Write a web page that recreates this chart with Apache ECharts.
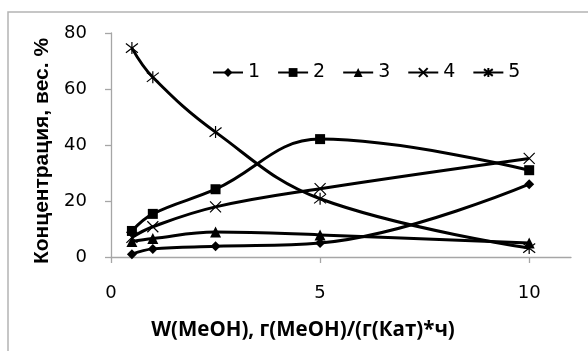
<!DOCTYPE html>
<html><head><meta charset="utf-8">
<script src="https://cdn.jsdelivr.net/npm/echarts@6/dist/echarts.min.js"></script>
<style>html,body{margin:0;padding:0;background:#fff}#c{width:588px;height:351px}</style>
</head><body><div id="c"></div>
<script>
const xValues = [0.5, 1, 2.5, 5, 10];
const s1 = [1.0, 2.9, 3.8, 5.0, 26.0];
const s2 = [9.3, 15.4, 24.2, 42.1, 31.0];
const s3 = [5.5, 6.6, 8.9, 7.9, 5.0];
const s4 = [7.0, 10.8, 17.9, 24.4, 35.2];
const s5 = [74.6, 64.2, 44.6, 20.8, 3.2];
const seriesNames = ['1', '2', '3', '4', '5'];
const xTicks = [0, 5, 10];
const yTicks = [0, 20, 40, 60, 80];

const X_PATH = 'path://M0,0L10,10M10,0L0,10';
const STAR_PATH = 'path://M0,0L10,10M10,0L0,10M5,-1.5L5,11.5';
const symbols = ['diamond', 'rect', 'triangle', X_PATH, STAR_PATH];
const sizes = [10, 10, 11, 11, 12];
const all = [s1, s2, s3, s4, s5];

const chart = echarts.init(document.getElementById('c'));
const series = all.map((arr, i) => ({
  name: seriesNames[i],
  type: 'line',
  smooth: 0.4,
  data: arr.map((v, k) => [xValues[k], v]),
  symbol: symbols[i],
  symbolSize: sizes[i],
  showAllSymbol: true,
  lineStyle: { color: '#000', width: 3 },
  itemStyle: i >= 3 ? { color: 'none', borderColor: '#000', borderWidth: 1.2 } : { color: '#000', borderColor: '#000', borderWidth: 0 },
  emphasis: { disabled: true },
  z: 2 + i
}));

chart.setOption({
  animation: false,
  backgroundColor: '#fff',
  graphic: [{
    type: 'rect', shape: { x: 8, y: 12, width: 620, height: 400 },
    style: { fill: 'none', stroke: '#b4b4b4', lineWidth: 1.5 }, z: 0
  }],
  grid: { left: 111, right: 17, top: 33, bottom: 94, containLabel: false },
  legend: {
    data: seriesNames,
    left: 207, top: 58,
    itemWidth: 30, itemHeight: 11, itemGap: 17,
    textStyle: { fontFamily: 'DejaVu Sans', fontSize: 19, color: '#000' },
    itemStyle: {}
  },
  xAxis: {
    type: 'value', min: 0, max: 11, interval: 5,
    name: 'W(MeOH), г(MeOH)/(г(Кат)*ч)',
    nameLocation: 'middle', nameGap: 63,
    nameTextStyle: { fontFamily: 'Open Sans', fontWeight: 'bold', fontSize: 20.5, color: '#000', padding: [0, 0, 0, -76] },
    splitLine: { show: false },
    axisLine: { lineStyle: { color: '#a6a6a6', width: 1.3 } },
    axisTick: { show: true, length: 6, customValues: xTicks, lineStyle: { color: '#a6a6a6', width: 1.3 } },
    axisLabel: { customValues: xTicks, margin: 27, fontFamily: 'DejaVu Sans', fontSize: 18, color: '#000' }
  },
  yAxis: {
    type: 'value', min: 0, max: 80, interval: 20,
    name: 'Концентрация, вес. %',
    nameLocation: 'middle', nameGap: 56, nameRotate: 90,
    nameTextStyle: { fontFamily: 'Liberation Sans', fontWeight: 'bold', fontSize: 21, color: '#000', padding: [0, 12, 0, 0] },
    splitLine: { show: false },
    axisLine: { show: true, lineStyle: { color: '#a6a6a6', width: 1.3 } },
    axisTick: { show: true, length: 6, lineStyle: { color: '#a6a6a6', width: 1.3 } },
    axisLabel: { margin: 24, fontFamily: 'DejaVu Sans', fontSize: 18, color: '#000' }
  },
  series: series
});
</script>
</body></html>
